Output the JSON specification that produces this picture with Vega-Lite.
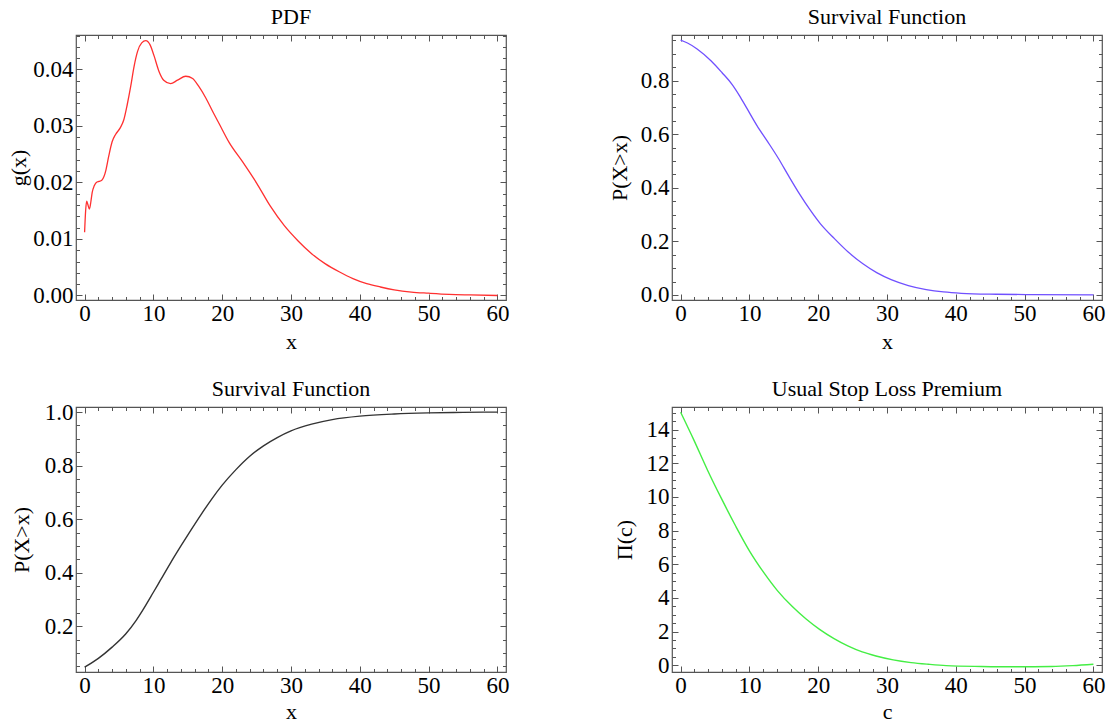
{
  "$schema": "https://vega.github.io/schema/vega-lite/v6.json",
  "padding": {"left": 6, "top": 4, "right": 0, "bottom": 0},
  "background": "white",
  "bounds": "flush",
  "columns": 2,
  "spacing": {"row": 107, "column": 166},
  "config": {
    "view": {"stroke": "#555555", "strokeWidth": 1.2},
    "axis": {"domain": false, "grid": false, "labelFont": "Liberation Serif", "labelFontSize": 23, "labelColor": "#000000", "titleFont": "Liberation Serif", "titleFontSize": 22, "titleFontWeight": "normal", "titleColor": "#000000", "tickColor": "#555555", "tickWidth": 1, "labelFlush": false, "labelOverlap": false},
    "title": {"font": "Liberation Serif", "fontSize": 22, "fontWeight": "normal", "color": "#000000", "baseline": "alphabetic", "offset": 6, "anchor": "middle"}
  },
  "concat": [
    {
      "width": 430, "height": 265,
      "title": {"text": "PDF"},
      "data": {"values": [
        {"x": 0, "y": 0.0112}, {"x": 0.15, "y": 0.0150}, {"x": 0.3, "y": 0.0167}, {"x": 0.45, "y": 0.0162}, {"x": 0.7, "y": 0.0153}, {"x": 0.9, "y": 0.0165}, {"x": 1.1, "y": 0.0182}, {"x": 1.4, "y": 0.0194}, {"x": 1.7, "y": 0.0200}, {"x": 2.1, "y": 0.0202}, {"x": 2.5, "y": 0.0204}, {"x": 2.8, "y": 0.0210}, {"x": 3.1, "y": 0.0222}, {"x": 3.5, "y": 0.0246}, {"x": 4.0, "y": 0.0272}, {"x": 4.5, "y": 0.0285}, {"x": 5.2, "y": 0.0297}, {"x": 5.7, "y": 0.0311}, {"x": 6.2, "y": 0.0338}, {"x": 6.7, "y": 0.0370}, {"x": 7.2, "y": 0.0406}, {"x": 7.7, "y": 0.0432}, {"x": 8.3, "y": 0.0447}, {"x": 8.9, "y": 0.0451}, {"x": 9.5, "y": 0.0444}, {"x": 10.1, "y": 0.0424}, {"x": 10.8, "y": 0.0397}, {"x": 11.5, "y": 0.0381}, {"x": 12.5, "y": 0.0375}, {"x": 13.5, "y": 0.0381}, {"x": 14.7, "y": 0.0388}, {"x": 15.7, "y": 0.0384}, {"x": 16.6, "y": 0.0370}, {"x": 17.6, "y": 0.0350}, {"x": 18.6, "y": 0.0326}, {"x": 19.6, "y": 0.0303}, {"x": 21.0, "y": 0.0271}, {"x": 23.0, "y": 0.0236}, {"x": 25.0, "y": 0.0199}, {"x": 27.0, "y": 0.0158}, {"x": 29.0, "y": 0.0124}, {"x": 31.0, "y": 0.0097}, {"x": 33.0, "y": 0.0074}, {"x": 35.0, "y": 0.0056}, {"x": 37.0, "y": 0.0042}, {"x": 39.0, "y": 0.0030}, {"x": 41.0, "y": 0.0021}, {"x": 43.0, "y": 0.0015}, {"x": 45.0, "y": 0.0010}, {"x": 47.5, "y": 0.0006}, {"x": 50.0, "y": 0.0004}, {"x": 53.0, "y": 0.0002}, {"x": 56.0, "y": 0.0001}, {"x": 60.0, "y": 0.0}
      ]},
      "resolve": {"axis": {"x": "independent", "y": "independent"}},
      "layer": [
        {"mark": {"type": "line", "color": "#ff3030", "strokeWidth": 1.3, "interpolate": "monotone"},
         "encoding": {
           "x": {"field": "x", "type": "quantitative", "scale": {"domain": [-1.25, 61.25], "nice": false, "zero": false}, "axis": {"orient": "bottom", "values": [0,10,20,30,40,50,60], "ticks": false, "tickSize": 0, "labelPadding": 2, "format": "d", "title": "x", "titleY": 48, "titleBaseline": "alphabetic"}},
           "y": {"field": "y", "type": "quantitative", "scale": {"domain": [-0.0008, 0.0461], "nice": false, "zero": false}, "axis": {"orient": "left", "values": [0,0.01,0.02,0.03,0.04], "ticks": false, "tickSize": 0, "labelPadding": 3, "format": ".2f", "title": "g(x)", "titleX": -51, "titleBaseline": "alphabetic"}}
         }},
        {"mark": {"type": "line", "opacity": 0},
         "encoding": {
           "x": {"field": "x", "type": "quantitative", "axis": {"orient": "bottom", "values": [0,10,20,30,40,50,60], "labels": false, "tickSize": -6, "title": null}},
           "y": {"field": "y", "type": "quantitative", "axis": {"orient": "left", "values": [0,0.01,0.02,0.03,0.04], "labels": false, "tickSize": -6, "title": null}}
         }},
        {"mark": {"type": "line", "opacity": 0},
         "encoding": {
           "x": {"field": "x", "type": "quantitative", "axis": {"orient": "bottom", "values": [0,2,4,6,8,10,12,14,16,18,20,22,24,26,28,30,32,34,36,38,40,42,44,46,48,50,52,54,56,58,60], "labels": false, "tickSize": -3.5, "title": null}},
           "y": {"field": "y", "type": "quantitative", "axis": {"orient": "left", "values": [0,0.002,0.004,0.006,0.008,0.01,0.012,0.014,0.016,0.018,0.02,0.022,0.024,0.026,0.028,0.03,0.032,0.034,0.036,0.038,0.04,0.042,0.044,0.046], "labels": false, "tickSize": -3.5, "title": null}}
         }},
        {"mark": {"type": "line", "opacity": 0},
         "encoding": {
           "x": {"field": "x", "type": "quantitative", "axis": {"orient": "top", "values": [0,10,20,30,40,50,60], "labels": false, "tickSize": -6, "title": null}},
           "y": {"field": "y", "type": "quantitative", "axis": {"orient": "right", "values": [0,0.01,0.02,0.03,0.04], "labels": false, "tickSize": -6, "title": null}}
         }},
        {"mark": {"type": "line", "opacity": 0},
         "encoding": {
           "x": {"field": "x", "type": "quantitative", "axis": {"orient": "top", "values": [0,2,4,6,8,10,12,14,16,18,20,22,24,26,28,30,32,34,36,38,40,42,44,46,48,50,52,54,56,58,60], "labels": false, "tickSize": -3.5, "title": null}},
           "y": {"field": "y", "type": "quantitative", "axis": {"orient": "right", "values": [0,0.002,0.004,0.006,0.008,0.01,0.012,0.014,0.016,0.018,0.02,0.022,0.024,0.026,0.028,0.03,0.032,0.034,0.036,0.038,0.04,0.042,0.044,0.046], "labels": false, "tickSize": -3.5, "title": null}}
         }}
      ]
    },
    {
      "width": 430, "height": 265,
      "title": {"text": "Survival Function"},
      "data": {"values": [
        {"x": 0, "y": 0.951}, {"x": 1, "y": 0.940}, {"x": 2.4, "y": 0.918}, {"x": 4.45, "y": 0.873}, {"x": 6, "y": 0.830}, {"x": 7.5, "y": 0.785}, {"x": 8.55, "y": 0.744}, {"x": 9.6, "y": 0.698}, {"x": 11.1, "y": 0.632}, {"x": 12.65, "y": 0.572}, {"x": 14.2, "y": 0.510}, {"x": 15.7, "y": 0.444}, {"x": 17.3, "y": 0.376}, {"x": 18.8, "y": 0.318}, {"x": 20.3, "y": 0.266}, {"x": 22.4, "y": 0.209}, {"x": 24.4, "y": 0.159}, {"x": 26.5, "y": 0.116}, {"x": 28.5, "y": 0.083}, {"x": 30.6, "y": 0.057}, {"x": 33.1, "y": 0.035}, {"x": 35.7, "y": 0.020}, {"x": 38.2, "y": 0.011}, {"x": 40.8, "y": 0.006}, {"x": 45.9, "y": 0.0025}, {"x": 51, "y": 0.001}, {"x": 60, "y": 0.0}
      ]},
      "resolve": {"axis": {"x": "independent", "y": "independent"}},
      "layer": [
        {"mark": {"type": "line", "color": "#7050ff", "strokeWidth": 1.3, "interpolate": "monotone"},
         "encoding": {
           "x": {"field": "x", "type": "quantitative", "scale": {"domain": [-1.25, 61.25], "nice": false, "zero": false}, "axis": {"orient": "bottom", "values": [0,10,20,30,40,50,60], "ticks": false, "tickSize": 0, "labelPadding": 2, "format": "d", "title": "x", "titleY": 48, "titleBaseline": "alphabetic"}},
           "y": {"field": "y", "type": "quantitative", "scale": {"domain": [-0.019, 0.970], "nice": false, "zero": false}, "axis": {"orient": "left", "values": [0,0.2,0.4,0.6,0.8], "ticks": false, "tickSize": 0, "labelPadding": 3, "format": ".1f", "title": "P(X>x)", "titleX": -46, "titleBaseline": "alphabetic"}}
         }},
        {"mark": {"type": "line", "opacity": 0},
         "encoding": {
           "x": {"field": "x", "type": "quantitative", "axis": {"orient": "bottom", "values": [0,10,20,30,40,50,60], "labels": false, "tickSize": -6, "title": null}},
           "y": {"field": "y", "type": "quantitative", "axis": {"orient": "left", "values": [0,0.2,0.4,0.6,0.8], "labels": false, "tickSize": -6, "title": null}}
         }},
        {"mark": {"type": "line", "opacity": 0},
         "encoding": {
           "x": {"field": "x", "type": "quantitative", "axis": {"orient": "bottom", "values": [0,2,4,6,8,10,12,14,16,18,20,22,24,26,28,30,32,34,36,38,40,42,44,46,48,50,52,54,56,58,60], "labels": false, "tickSize": -3.5, "title": null}},
           "y": {"field": "y", "type": "quantitative", "axis": {"orient": "left", "values": [0,0.05,0.1,0.15,0.2,0.25,0.3,0.35,0.4,0.45,0.5,0.55,0.6,0.65,0.7,0.75,0.8,0.85,0.9,0.95], "labels": false, "tickSize": -3.5, "title": null}}
         }},
        {"mark": {"type": "line", "opacity": 0},
         "encoding": {
           "x": {"field": "x", "type": "quantitative", "axis": {"orient": "top", "values": [0,10,20,30,40,50,60], "labels": false, "tickSize": -6, "title": null}},
           "y": {"field": "y", "type": "quantitative", "axis": {"orient": "right", "values": [0,0.2,0.4,0.6,0.8], "labels": false, "tickSize": -6, "title": null}}
         }},
        {"mark": {"type": "line", "opacity": 0},
         "encoding": {
           "x": {"field": "x", "type": "quantitative", "axis": {"orient": "top", "values": [0,2,4,6,8,10,12,14,16,18,20,22,24,26,28,30,32,34,36,38,40,42,44,46,48,50,52,54,56,58,60], "labels": false, "tickSize": -3.5, "title": null}},
           "y": {"field": "y", "type": "quantitative", "axis": {"orient": "right", "values": [0,0.05,0.1,0.15,0.2,0.25,0.3,0.35,0.4,0.45,0.5,0.55,0.6,0.65,0.7,0.75,0.8,0.85,0.9,0.95], "labels": false, "tickSize": -3.5, "title": null}}
         }}
      ]
    },
    {
      "width": 430, "height": 265,
      "title": {"text": "Survival Function", "offset": 0},
      "data": {"values": [
        {"x": 0, "y": 0.047}, {"x": 2, "y": 0.08}, {"x": 4, "y": 0.122}, {"x": 6, "y": 0.172}, {"x": 7.5, "y": 0.222}, {"x": 8.5, "y": 0.262}, {"x": 10, "y": 0.327}, {"x": 11, "y": 0.371}, {"x": 12.5, "y": 0.437}, {"x": 14, "y": 0.5}, {"x": 15.5, "y": 0.561}, {"x": 17, "y": 0.62}, {"x": 18.5, "y": 0.676}, {"x": 20, "y": 0.727}, {"x": 22, "y": 0.785}, {"x": 24, "y": 0.835}, {"x": 26, "y": 0.874}, {"x": 28, "y": 0.905}, {"x": 30, "y": 0.93}, {"x": 33, "y": 0.955}, {"x": 36, "y": 0.972}, {"x": 40, "y": 0.985}, {"x": 45, "y": 0.993}, {"x": 50, "y": 0.997}, {"x": 55, "y": 0.999}, {"x": 60, "y": 1.0}
      ]},
      "resolve": {"axis": {"x": "independent", "y": "independent"}},
      "layer": [
        {"mark": {"type": "line", "color": "#333333", "strokeWidth": 1.4, "interpolate": "monotone"},
         "encoding": {
           "x": {"field": "x", "type": "quantitative", "scale": {"domain": [-1.25, 61.25], "nice": false, "zero": false}, "axis": {"orient": "bottom", "values": [0,10,20,30,40,50,60], "ticks": false, "tickSize": 0, "labelPadding": 2, "format": "d", "title": "x", "titleY": 46, "titleBaseline": "alphabetic"}},
           "y": {"field": "y", "type": "quantitative", "scale": {"domain": [0.029, 1.019], "nice": false, "zero": false}, "axis": {"orient": "left", "values": [0.2,0.4,0.6,0.8,1.0], "ticks": false, "tickSize": 0, "labelPadding": 3, "format": ".1f", "title": "P(X>x)", "titleX": -48, "titleBaseline": "alphabetic"}}
         }},
        {"mark": {"type": "line", "opacity": 0},
         "encoding": {
           "x": {"field": "x", "type": "quantitative", "axis": {"orient": "bottom", "values": [0,10,20,30,40,50,60], "labels": false, "tickSize": -6, "title": null}},
           "y": {"field": "y", "type": "quantitative", "axis": {"orient": "left", "values": [0.2,0.4,0.6,0.8,1.0], "labels": false, "tickSize": -6, "title": null}}
         }},
        {"mark": {"type": "line", "opacity": 0},
         "encoding": {
           "x": {"field": "x", "type": "quantitative", "axis": {"orient": "bottom", "values": [0,2,4,6,8,10,12,14,16,18,20,22,24,26,28,30,32,34,36,38,40,42,44,46,48,50,52,54,56,58,60], "labels": false, "tickSize": -3.5, "title": null}},
           "y": {"field": "y", "type": "quantitative", "axis": {"orient": "left", "values": [0.05,0.1,0.15,0.2,0.25,0.3,0.35,0.4,0.45,0.5,0.55,0.6,0.65,0.7,0.75,0.8,0.85,0.9,0.95,1.0], "labels": false, "tickSize": -3.5, "title": null}}
         }},
        {"mark": {"type": "line", "opacity": 0},
         "encoding": {
           "x": {"field": "x", "type": "quantitative", "axis": {"orient": "top", "values": [0,10,20,30,40,50,60], "labels": false, "tickSize": -6, "title": null}},
           "y": {"field": "y", "type": "quantitative", "axis": {"orient": "right", "values": [0.2,0.4,0.6,0.8,1.0], "labels": false, "tickSize": -6, "title": null}}
         }},
        {"mark": {"type": "line", "opacity": 0},
         "encoding": {
           "x": {"field": "x", "type": "quantitative", "axis": {"orient": "top", "values": [0,2,4,6,8,10,12,14,16,18,20,22,24,26,28,30,32,34,36,38,40,42,44,46,48,50,52,54,56,58,60], "labels": false, "tickSize": -3.5, "title": null}},
           "y": {"field": "y", "type": "quantitative", "axis": {"orient": "right", "values": [0.05,0.1,0.15,0.2,0.25,0.3,0.35,0.4,0.45,0.5,0.55,0.6,0.65,0.7,0.75,0.8,0.85,0.9,0.95,1.0], "labels": false, "tickSize": -3.5, "title": null}}
         }}
      ]
    },
    {
      "width": 430, "height": 265,
      "title": {"text": "Usual Stop Loss Premium"},
      "data": {"values": [
        {"x": 0, "y": 15.03}, {"x": 1.9, "y": 13.4}, {"x": 3.9, "y": 11.6}, {"x": 6.0, "y": 9.85}, {"x": 8.0, "y": 8.27}, {"x": 10.0, "y": 6.80}, {"x": 12.1, "y": 5.50}, {"x": 14.1, "y": 4.42}, {"x": 16.2, "y": 3.50}, {"x": 18.2, "y": 2.76}, {"x": 20.2, "y": 2.13}, {"x": 22.3, "y": 1.58}, {"x": 24.3, "y": 1.15}, {"x": 26.4, "y": 0.79}, {"x": 28.4, "y": 0.55}, {"x": 30.9, "y": 0.32}, {"x": 33.5, "y": 0.16}, {"x": 36, "y": 0.06}, {"x": 38.6, "y": -0.02}, {"x": 43.7, "y": -0.07}, {"x": 48.8, "y": -0.09}, {"x": 53.9, "y": -0.07}, {"x": 57, "y": -0.02}, {"x": 60, "y": 0.06}
      ]},
      "resolve": {"axis": {"x": "independent", "y": "independent"}},
      "layer": [
        {"mark": {"type": "line", "color": "#44ee44", "strokeWidth": 1.4, "interpolate": "monotone"},
         "encoding": {
           "x": {"field": "x", "type": "quantitative", "scale": {"domain": [-1.25, 61.25], "nice": false, "zero": false}, "axis": {"orient": "bottom", "values": [0,10,20,30,40,50,60], "ticks": false, "tickSize": 0, "labelPadding": 2, "format": "d", "title": "c", "titleY": 46, "titleBaseline": "alphabetic"}},
           "y": {"field": "y", "type": "quantitative", "scale": {"domain": [-0.4, 15.34], "nice": false, "zero": false}, "axis": {"orient": "left", "values": [0,2,4,6,8,10,12,14], "ticks": false, "tickSize": 0, "labelPadding": 3, "format": "d", "title": "Π(c)", "titleX": -41, "titleBaseline": "alphabetic"}}
         }},
        {"mark": {"type": "line", "opacity": 0},
         "encoding": {
           "x": {"field": "x", "type": "quantitative", "axis": {"orient": "bottom", "values": [0,10,20,30,40,50,60], "labels": false, "tickSize": -6, "title": null}},
           "y": {"field": "y", "type": "quantitative", "axis": {"orient": "left", "values": [0,2,4,6,8,10,12,14], "labels": false, "tickSize": -6, "title": null}}
         }},
        {"mark": {"type": "line", "opacity": 0},
         "encoding": {
           "x": {"field": "x", "type": "quantitative", "axis": {"orient": "bottom", "values": [0,2,4,6,8,10,12,14,16,18,20,22,24,26,28,30,32,34,36,38,40,42,44,46,48,50,52,54,56,58,60], "labels": false, "tickSize": -3.5, "title": null}},
           "y": {"field": "y", "type": "quantitative", "axis": {"orient": "left", "values": [0,0.5,1,1.5,2,2.5,3,3.5,4,4.5,5,5.5,6,6.5,7,7.5,8,8.5,9,9.5,10,10.5,11,11.5,12,12.5,13,13.5,14,14.5,15], "labels": false, "tickSize": -3.5, "title": null}}
         }},
        {"mark": {"type": "line", "opacity": 0},
         "encoding": {
           "x": {"field": "x", "type": "quantitative", "axis": {"orient": "top", "values": [0,10,20,30,40,50,60], "labels": false, "tickSize": -6, "title": null}},
           "y": {"field": "y", "type": "quantitative", "axis": {"orient": "right", "values": [0,2,4,6,8,10,12,14], "labels": false, "tickSize": -6, "title": null}}
         }},
        {"mark": {"type": "line", "opacity": 0},
         "encoding": {
           "x": {"field": "x", "type": "quantitative", "axis": {"orient": "top", "values": [0,2,4,6,8,10,12,14,16,18,20,22,24,26,28,30,32,34,36,38,40,42,44,46,48,50,52,54,56,58,60], "labels": false, "tickSize": -3.5, "title": null}},
           "y": {"field": "y", "type": "quantitative", "axis": {"orient": "right", "values": [0,0.5,1,1.5,2,2.5,3,3.5,4,4.5,5,5.5,6,6.5,7,7.5,8,8.5,9,9.5,10,10.5,11,11.5,12,12.5,13,13.5,14,14.5,15], "labels": false, "tickSize": -3.5, "title": null}}
         }}
      ]
    }
  ]
}
